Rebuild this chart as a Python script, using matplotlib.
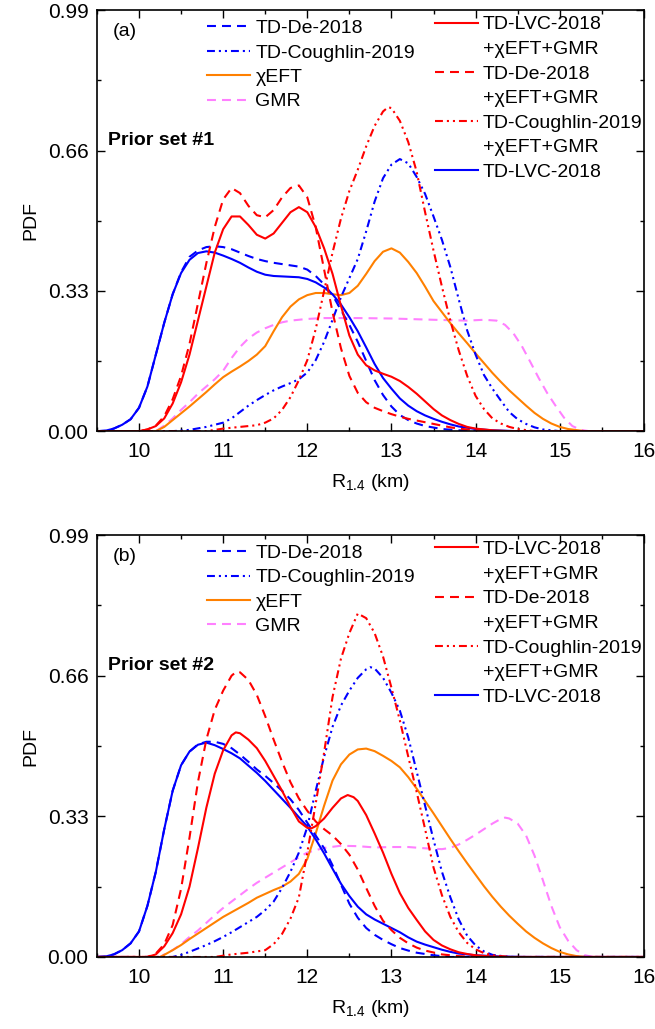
import matplotlib
matplotlib.use("Agg")
import matplotlib.pyplot as plt
from matplotlib.lines import Line2D
from matplotlib.ticker import MultipleLocator

plt.rcParams['font.family'] = ['Liberation Sans', 'DejaVu Sans']
plt.rcParams['mathtext.fontset'] = 'custom'
plt.rcParams['mathtext.rm'] = 'Liberation Sans'

# ---------------- panel (a): prior set #1 ----------------
lvc_a_x = [9.5, 9.6, 9.7, 9.8, 9.9, 10.0, 10.1, 10.2, 10.3, 10.4, 10.5, 10.6, 10.7, 10.8, 10.9, 11.0, 11.1,
           11.2, 11.3, 11.4, 11.5, 11.6, 11.7, 11.8, 11.9, 12.0, 12.1, 12.2, 12.3, 12.4, 12.5, 12.6, 12.7,
           12.8, 12.9, 13.0, 13.1, 13.2, 13.3, 13.4, 13.5, 13.6, 13.7, 13.8, 13.9, 14.0, 14.2, 14.5, 16]
lvc_a_y = [0, 0.001, 0.006, 0.015, 0.028, 0.055, 0.105, 0.18, 0.255, 0.322, 0.372, 0.403, 0.419, 0.423,
           0.42, 0.413, 0.405, 0.396, 0.385, 0.375, 0.368, 0.365, 0.364, 0.363, 0.362, 0.358, 0.35, 0.338,
           0.322, 0.298, 0.268, 0.235, 0.197, 0.158, 0.125, 0.1, 0.077, 0.06, 0.047, 0.037, 0.029, 0.022,
           0.016, 0.011, 0.008, 0.005, 0.002, 0, 0]

de_a_x = [9.5, 9.6, 9.7, 9.8, 9.9, 10.0, 10.1, 10.2, 10.3, 10.4, 10.5, 10.6, 10.7, 10.8, 10.9, 11.0, 11.1,
          11.2, 11.3, 11.4, 11.5, 11.6, 11.7, 11.8, 11.9, 12.0, 12.1, 12.2, 12.3, 12.4, 12.5, 12.6, 12.7,
          12.8, 12.9, 13.0, 13.1, 13.2, 13.3, 13.4, 13.6, 13.8, 14.0, 16]
de_a_y = [0, 0.001, 0.006, 0.015, 0.028, 0.055, 0.105, 0.18, 0.255, 0.322, 0.374, 0.41, 0.425, 0.433,
          0.435, 0.433, 0.428, 0.42, 0.412, 0.405, 0.40, 0.396, 0.393, 0.39, 0.387, 0.38, 0.365, 0.345,
          0.32, 0.285, 0.25, 0.21, 0.165, 0.12, 0.085, 0.058, 0.038, 0.026, 0.018, 0.012, 0.005, 0.002,
          0, 0]

cou_a_x = [9.5, 10.4, 10.6, 10.8, 11.0, 11.1, 11.2, 11.3, 11.4, 11.5, 11.6, 11.7, 11.8, 11.9, 12.0, 12.1,
           12.2, 12.3, 12.4, 12.5, 12.6, 12.7, 12.8, 12.9, 13.0, 13.1, 13.2, 13.3, 13.4, 13.5, 13.6, 13.7,
           13.8, 13.9, 14.0, 14.1, 14.2, 14.3, 14.4, 14.5, 14.6, 14.7, 14.8, 15.0, 16]
cou_a_y = [0, 0, 0.003, 0.01, 0.02, 0.03, 0.045, 0.06, 0.073, 0.085, 0.096, 0.105, 0.113, 0.122, 0.138,
           0.167, 0.21, 0.262, 0.315, 0.36, 0.405, 0.47, 0.54, 0.595, 0.627, 0.64, 0.63, 0.598, 0.558,
           0.505, 0.45, 0.386, 0.31, 0.237, 0.18, 0.132, 0.1, 0.072, 0.045, 0.028, 0.017, 0.009, 0.004,
           0, 0]

chi_a_x = [9.5, 10.2, 10.3, 10.4, 10.5, 10.6, 10.7, 10.8, 10.9, 11.0, 11.1, 11.2, 11.3, 11.4, 11.5, 11.6,
           11.7, 11.8, 11.9, 12.0, 12.1, 12.2, 12.3, 12.4, 12.5, 12.6, 12.7, 12.8, 12.9, 13.0, 13.1, 13.2,
           13.3, 13.4, 13.5, 13.6, 13.7, 13.8, 13.9, 14.0, 14.1, 14.2, 14.3, 14.4, 14.5, 14.6, 14.7, 14.8,
           14.9, 15.0, 15.1, 15.3, 16]
chi_a_y = [0, 0, 0.01, 0.026, 0.042, 0.058, 0.075, 0.092, 0.11, 0.127, 0.14, 0.152, 0.165, 0.18, 0.2,
           0.235, 0.268, 0.293, 0.31, 0.32, 0.325, 0.325, 0.322, 0.32, 0.325, 0.342, 0.37, 0.4, 0.422,
           0.43, 0.42, 0.398, 0.372, 0.34, 0.306, 0.28, 0.254, 0.23, 0.207, 0.183, 0.16, 0.137, 0.116,
           0.096, 0.078, 0.06, 0.043, 0.029, 0.018, 0.01, 0.005, 0, 0]

gmr_a_x = [9.5, 10.2, 10.3, 10.4, 10.5, 10.6, 10.7, 10.8, 10.9, 11.0, 11.1, 11.2, 11.3, 11.4, 11.5, 11.6,
           11.7, 11.8, 12.0, 12.2, 12.6, 13.0, 13.5, 13.9, 14.1, 14.25, 14.35, 14.45, 14.55, 14.65, 14.75,
           14.85, 14.95, 15.05, 15.15, 15.25, 15.35, 16]
gmr_a_y = [0, 0, 0.013, 0.03, 0.05, 0.068, 0.088, 0.105, 0.122, 0.142, 0.172, 0.198, 0.218, 0.232, 0.242,
           0.25, 0.256, 0.26, 0.264, 0.266, 0.266, 0.265, 0.262, 0.26, 0.262, 0.26, 0.25, 0.23, 0.2, 0.163,
           0.125, 0.09, 0.06, 0.032, 0.012, 0.003, 0, 0]

lvc_chi_a_x = [9.5, 10.0, 10.1, 10.2, 10.3, 10.4, 10.5, 10.6, 10.7, 10.8, 10.9, 11.0, 11.1, 11.2, 11.3,
               11.4, 11.5, 11.6, 11.7, 11.8, 11.9, 12.0, 12.1, 12.2, 12.3, 12.4, 12.5, 12.6, 12.7, 12.8,
               12.9, 13.0, 13.1, 13.2, 13.3, 13.4, 13.5, 13.6, 13.7, 13.8, 13.9, 14.0, 14.2, 14.4, 16]
lvc_chi_a_y = [0, 0, 0.004, 0.012, 0.03, 0.065, 0.115, 0.18, 0.26, 0.34, 0.42, 0.475, 0.505, 0.505, 0.485,
               0.462, 0.453, 0.465, 0.49, 0.515, 0.527, 0.515, 0.48, 0.43, 0.37, 0.295, 0.225, 0.18, 0.155,
               0.143, 0.135, 0.128, 0.118, 0.104, 0.088, 0.07, 0.052, 0.037, 0.026, 0.017, 0.01, 0.006,
               0.002, 0, 0]

de_chi_a_x = [9.5, 10.0, 10.1, 10.2, 10.3, 10.4, 10.5, 10.6, 10.7, 10.8, 10.9, 11.0, 11.1, 11.2, 11.3,
              11.4, 11.5, 11.6, 11.7, 11.8, 11.9, 12.0, 12.1, 12.2, 12.3, 12.4, 12.5, 12.6, 12.7, 12.8,
              12.9, 13.0, 13.1, 13.2, 13.3, 13.4, 13.5, 13.6, 13.7, 13.8, 14.0, 14.2, 16]
de_chi_a_y = [0, 0, 0.004, 0.013, 0.035, 0.075, 0.13, 0.205, 0.3, 0.395, 0.48, 0.545, 0.572, 0.56, 0.53,
              0.508, 0.503, 0.52, 0.55, 0.572, 0.578, 0.55, 0.48, 0.38, 0.28, 0.195, 0.13, 0.09, 0.068,
              0.055, 0.047, 0.04, 0.034, 0.029, 0.025, 0.021, 0.017, 0.013, 0.009, 0.006, 0.002, 0, 0]

cou_chi_a_x = [9.5, 10.8, 11.0, 11.2, 11.4, 11.5, 11.6, 11.7, 11.8, 11.9, 12.0, 12.1, 12.2, 12.3, 12.4,
               12.5, 12.6, 12.7, 12.8, 12.9, 12.96, 13.0, 13.1, 13.2, 13.3, 13.4, 13.5, 13.6, 13.7, 13.8,
               13.9, 14.0, 14.1, 14.2, 14.3, 14.4, 14.5, 14.7, 16]
cou_chi_a_y = [0, 0, 0.006, 0.01, 0.014, 0.02, 0.03, 0.05, 0.08, 0.12, 0.167, 0.24, 0.33, 0.42, 0.5,
               0.565, 0.615, 0.67, 0.718, 0.752, 0.762, 0.76, 0.73, 0.68, 0.61, 0.515, 0.425, 0.34, 0.26,
               0.19, 0.13, 0.083, 0.052, 0.03, 0.018, 0.01, 0.005, 0, 0]

# ---------------- panel (b): prior set #2 ----------------
lvc_b_x = [9.5, 9.6, 9.7, 9.8, 9.9, 10.0, 10.1, 10.2, 10.3, 10.4, 10.5, 10.6, 10.7, 10.8, 10.9, 11.0, 11.1,
           11.2, 11.3, 11.4, 11.5, 11.6, 11.7, 11.8, 11.9, 12.0, 12.1, 12.2, 12.3, 12.4, 12.5, 12.6, 12.7,
           12.8, 12.9, 13.0, 13.1, 13.2, 13.3, 13.4, 13.5, 13.6, 13.7, 13.8, 14.0, 14.3, 14.6, 16]
lvc_b_y = [0, 0.001, 0.006, 0.016, 0.032, 0.06, 0.12, 0.2, 0.3, 0.39, 0.45, 0.482, 0.498, 0.503, 0.497,
           0.488, 0.478, 0.466, 0.449, 0.432, 0.413, 0.392, 0.371, 0.35, 0.328, 0.306, 0.276, 0.243, 0.207,
           0.172, 0.143, 0.118, 0.1, 0.088, 0.078, 0.068, 0.058, 0.046, 0.036, 0.029, 0.023, 0.017, 0.012,
           0.008, 0.004, 0.001, 0, 0]

de_b_x = [9.5, 9.6, 9.7, 9.8, 9.9, 10.0, 10.1, 10.2, 10.3, 10.4, 10.5, 10.6, 10.7, 10.8, 10.9, 11.0, 11.1,
          11.2, 11.3, 11.4, 11.5, 11.6, 11.7, 11.8, 11.9, 12.0, 12.1, 12.2, 12.3, 12.4, 12.5, 12.6, 12.7,
          12.8, 12.9, 13.0, 13.1, 13.2, 13.3, 13.5, 13.7, 16]
de_b_y = [0, 0.001, 0.006, 0.016, 0.032, 0.06, 0.12, 0.2, 0.3, 0.39, 0.45, 0.482, 0.499, 0.505, 0.505,
          0.5, 0.49, 0.475, 0.458, 0.44, 0.425, 0.408, 0.39, 0.37, 0.345, 0.315, 0.285, 0.255, 0.215, 0.17,
          0.125, 0.092, 0.068, 0.052, 0.04, 0.03, 0.021, 0.015, 0.01, 0.004, 0, 0]

cou_b_x = [9.5, 10.4, 10.5, 10.6, 10.7, 10.8, 10.9, 11.0, 11.1, 11.2, 11.3, 11.4, 11.5, 11.6, 11.7, 11.8,
           11.9, 12.0, 12.1, 12.2, 12.3, 12.4, 12.5, 12.6, 12.7, 12.75, 12.8, 12.9, 13.0, 13.1, 13.2, 13.3,
           13.4, 13.5, 13.6, 13.7, 13.8, 13.9, 14.0, 14.1, 14.2, 14.4, 16]
cou_b_y = [0, 0, 0.005, 0.012, 0.02, 0.028, 0.037, 0.047, 0.058, 0.07, 0.082, 0.094, 0.11, 0.13, 0.162,
           0.2, 0.245, 0.305, 0.39, 0.47, 0.54, 0.59, 0.625, 0.655, 0.675, 0.68, 0.677, 0.655, 0.62,
           0.578, 0.515, 0.435, 0.355, 0.275, 0.2, 0.14, 0.088, 0.05, 0.027, 0.013, 0.005, 0, 0]

chi_b_x = [9.5, 10.25, 10.3, 10.4, 10.5, 10.6, 10.7, 10.8, 10.9, 11.0, 11.1, 11.2, 11.3, 11.4, 11.5, 11.6,
           11.7, 11.8, 11.9, 12.0, 12.1, 12.2, 12.3, 12.4, 12.5, 12.6, 12.7, 12.8, 12.9, 13.0, 13.1, 13.2,
           13.3, 13.4, 13.5, 13.6, 13.7, 13.8, 13.9, 14.0, 14.1, 14.2, 14.3, 14.4, 14.5, 14.6, 14.7, 14.8,
           14.9, 15.0, 15.1, 15.2, 15.3, 16]
chi_b_y = [0, 0, 0.005, 0.016, 0.028, 0.042, 0.055, 0.068, 0.081, 0.094, 0.105, 0.116, 0.127, 0.139,
           0.148, 0.157, 0.165, 0.177, 0.195, 0.23, 0.29, 0.355, 0.414, 0.452, 0.475, 0.487, 0.489, 0.483,
           0.472, 0.46, 0.445, 0.422, 0.395, 0.366, 0.337, 0.307, 0.277, 0.248, 0.22, 0.193, 0.166, 0.141,
           0.118, 0.097, 0.078, 0.06, 0.045, 0.032, 0.021, 0.012, 0.006, 0.002, 0, 0]

gmr_b_x = [9.5, 10.25, 10.3, 10.4, 10.5, 10.6, 10.7, 10.8, 10.9, 11.0, 11.1, 11.2, 11.3, 11.4, 11.5, 11.6,
           11.7, 11.8, 11.9, 12.0, 12.2, 12.4, 12.6, 12.8, 13.0, 13.2, 13.4, 13.6, 13.7, 13.8, 13.9, 14.0,
           14.1, 14.2, 14.3, 14.35, 14.4, 14.5, 14.6, 14.7, 14.8, 14.9, 15.0, 15.1, 15.2, 15.3, 15.4, 16]
gmr_b_y = [0, 0, 0.006, 0.016, 0.03, 0.047, 0.062, 0.08, 0.098, 0.115, 0.13, 0.145, 0.16, 0.174, 0.186,
           0.198, 0.21, 0.222, 0.234, 0.245, 0.256, 0.261, 0.26, 0.257, 0.258, 0.258, 0.255, 0.253, 0.256,
           0.264, 0.275, 0.287, 0.3, 0.313, 0.324, 0.327, 0.325, 0.313, 0.285, 0.238, 0.18, 0.12, 0.07,
           0.038, 0.016, 0.004, 0, 0]

lvc_chi_b_x = [9.5, 10.1, 10.2, 10.3, 10.4, 10.5, 10.6, 10.7, 10.8, 10.9, 11.0, 11.1, 11.15, 11.2, 11.3,
               11.4, 11.5, 11.6, 11.7, 11.8, 11.9, 12.0, 12.05, 12.1, 12.2, 12.3, 12.4, 12.48, 12.55, 12.6,
               12.7, 12.8, 12.9, 13.0, 13.1, 13.2, 13.3, 13.4, 13.5, 13.6, 13.7, 13.8, 13.9, 14.0, 14.2,
               14.4, 16]
lvc_chi_b_y = [0, 0, 0.006, 0.025, 0.056, 0.1, 0.165, 0.255, 0.35, 0.43, 0.485, 0.52, 0.527, 0.525, 0.51,
               0.49, 0.46, 0.425, 0.39, 0.352, 0.318, 0.303, 0.302, 0.307, 0.325, 0.35, 0.372, 0.38, 0.375,
               0.366, 0.333, 0.29, 0.245, 0.195, 0.15, 0.115, 0.087, 0.06, 0.04, 0.027, 0.018, 0.011,
               0.007, 0.004, 0.001, 0, 0]

de_chi_b_x = [9.5, 10.1, 10.2, 10.3, 10.4, 10.5, 10.6, 10.7, 10.8, 10.9, 11.0, 11.1, 11.16, 11.2, 11.3,
              11.4, 11.5, 11.6, 11.7, 11.8, 11.9, 12.0, 12.1, 12.2, 12.3, 12.4, 12.5, 12.6, 12.7, 12.8,
              12.9, 13.0, 13.1, 13.2, 13.3, 13.4, 13.6, 13.8, 14.0, 16]
de_chi_b_y = [0, 0, 0.008, 0.03, 0.075, 0.16, 0.28, 0.41, 0.51, 0.58, 0.625, 0.66, 0.67, 0.668, 0.65,
              0.615, 0.565, 0.51, 0.458, 0.41, 0.372, 0.343, 0.318, 0.3, 0.285, 0.265, 0.24, 0.205, 0.162,
              0.12, 0.085, 0.063, 0.045, 0.032, 0.022, 0.015, 0.006, 0.002, 0, 0]

cou_chi_b_x = [9.5, 10.9, 11.1, 11.3, 11.5, 11.6, 11.7, 11.8, 11.9, 12.0, 12.1, 12.2, 12.3, 12.4, 12.5,
               12.6, 12.7, 12.8, 12.9, 13.0, 13.1, 13.2, 13.3, 13.4, 13.5, 13.6, 13.7, 13.8, 13.9, 14.0,
               14.1, 14.2, 14.4, 16]
cou_chi_b_y = [0, 0, 0.006, 0.01, 0.016, 0.03, 0.054, 0.09, 0.14, 0.245, 0.36, 0.48, 0.61, 0.7, 0.76,
               0.806, 0.795, 0.76, 0.705, 0.632, 0.555, 0.47, 0.387, 0.3, 0.21, 0.145, 0.094, 0.058, 0.033,
               0.018, 0.009, 0.004, 0, 0]

BLUE = '#0000ff'
RED = '#ff0000'
ORANGE = '#ff8000'
PINK = '#ff80ff'
dash = (4.3, 2.9)
dashdotdot = (3.8, 1.9, 1.0, 1.9, 1.0, 1.9)
LW = 1.5
FS = 14

fig = plt.figure(figsize=(6.55, 10.29), dpi=100)
ax1 = fig.add_axes([0.148, 0.581, 0.835, 0.409])
ax2 = fig.add_axes([0.148, 0.070, 0.835, 0.410])

panels = [
    (ax1, '(a)', 'Prior set #1',
     (lvc_a_x, lvc_a_y), (de_a_x, de_a_y), (cou_a_x, cou_a_y), (chi_a_x, chi_a_y), (gmr_a_x, gmr_a_y),
     (lvc_chi_a_x, lvc_chi_a_y), (de_chi_a_x, de_chi_a_y), (cou_chi_a_x, cou_chi_a_y)),
    (ax2, '(b)', 'Prior set #2',
     (lvc_b_x, lvc_b_y), (de_b_x, de_b_y), (cou_b_x, cou_b_y), (chi_b_x, chi_b_y), (gmr_b_x, gmr_b_y),
     (lvc_chi_b_x, lvc_chi_b_y), (de_chi_b_x, de_chi_b_y), (cou_chi_b_x, cou_chi_b_y)),
]

for ax, tag, prior, lvc, de, cou, chi, gmr, lvc_chi, de_chi, cou_chi in panels:
    ax.plot(*gmr, color=PINK, lw=LW, dashes=dash)
    ax.plot(*chi, color=ORANGE, lw=LW)
    ax.plot(*cou, color=BLUE, lw=LW, dashes=dashdotdot)
    ax.plot(*de, color=BLUE, lw=LW, dashes=dash)
    ax.plot(*lvc, color=BLUE, lw=LW)
    ax.plot(*cou_chi, color=RED, lw=LW, dashes=dashdotdot)
    ax.plot(*de_chi, color=RED, lw=LW, dashes=dash)
    ax.plot(*lvc_chi, color=RED, lw=LW)

    ax.set_xlim(9.5, 16)
    ax.set_ylim(0, 0.99)
    ax.set_yticks([0, 0.33, 0.66, 0.99])
    ax.set_yticklabels(['0.00', '0.33', '0.66', '0.99'])
    ax.xaxis.set_major_locator(MultipleLocator(1))
    ax.xaxis.set_minor_locator(MultipleLocator(0.5))
    ax.yaxis.set_minor_locator(MultipleLocator(0.165))
    ax.tick_params(which='both', direction='in', top=True, right=True, labelsize=15, width=1)
    ax.tick_params(which='major', length=6)
    ax.tick_params(axis='x', which='major', pad=8)
    ax.tick_params(axis='y', which='major', pad=6)
    ax.tick_params(which='minor', length=3)
    for s in ax.spines.values():
        s.set_linewidth(1.2)
    ax.set_ylabel('PDF', fontsize=FS, labelpad=6)
    ax.set_xlabel('R$_{1.4}$ (km)', fontsize=FS, labelpad=8)

    ax.text(0.029, 0.95, tag, transform=ax.transAxes, fontsize=FS, va='center')
    ax.text(0.02, 0.691, prior, transform=ax.transAxes, fontsize=FS, fontweight='bold', va='center')

    h_left = [Line2D([], [], color=BLUE, lw=LW, dashes=dash),
              Line2D([], [], color=BLUE, lw=LW, dashes=dashdotdot),
              Line2D([], [], color=ORANGE, lw=LW),
              Line2D([], [], color=PINK, lw=LW, dashes=dash)]
    l_left = ['TD-De-2018', 'TD-Coughlin-2019', 'χEFT', 'GMR']
    leg1 = ax.legend(h_left, l_left, loc='upper left', bbox_to_anchor=(0.201, 0.978), frameon=False,
                     fontsize=FS, borderpad=0, handlelength=2.2, handletextpad=0.3, labelspacing=0.35,
                     borderaxespad=0)
    ax.add_artist(leg1)

    blank = Line2D([], [], color='none')
    h_right = [Line2D([], [], color=RED, lw=LW), blank,
               Line2D([], [], color=RED, lw=LW, dashes=dash), blank,
               Line2D([], [], color=RED, lw=LW, dashes=dashdotdot), blank,
               Line2D([], [], color=BLUE, lw=LW)]
    l_right = ['TD-LVC-2018', '+χEFT+GMR', 'TD-De-2018', '+χEFT+GMR', 'TD-Coughlin-2019', '+χEFT+GMR',
               'TD-LVC-2018']
    ax.legend(h_right, l_right, loc='upper left', bbox_to_anchor=(0.618, 0.987), frameon=False,
              fontsize=FS, borderpad=0, handlelength=2.2, handletextpad=0.25, labelspacing=0.36,
              borderaxespad=0)

fig.savefig('out.png', dpi=100)
